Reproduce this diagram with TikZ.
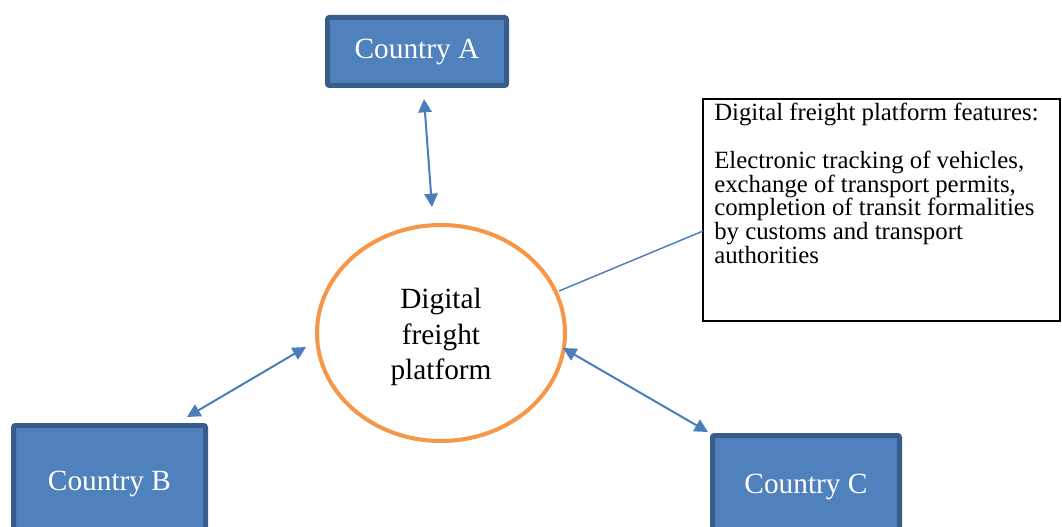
\documentclass[tikz,border=0pt]{standalone}
\usepackage{fontspec}
\setmainfont{Liberation Serif}
\usetikzlibrary{arrows.meta,calc,shapes.geometric}

\definecolor{boxfill}{HTML}{4F81BD}
\definecolor{boxline}{HTML}{385D8A}
\definecolor{ringline}{HTML}{F79646}
\definecolor{linkline}{HTML}{4A7EBB}

\tikzset{
  country/.style={draw=boxline, fill=boxfill, line width=3.75pt,
    rounded corners=1.5pt, inner sep=0pt, text=white,
    font=\fontsize{22pt}{26pt}\selectfont},
  platform/.style={ellipse, draw=ringline, line width=3pt, fill=white,
    inner sep=0pt, minimum width=186pt, minimum height=162pt},
  platformtext/.style={inner sep=0pt, align=center,
    font=\fontsize{22pt}{26.3pt}\selectfont},
  featbox/.style={draw=black, line width=1.5pt, inner sep=0pt,
    minimum width=267.75pt, minimum height=166.5pt},
  feattext/.style={inner sep=0pt, align=left,
    font=\fontsize{18.6pt}{17.8pt}\selectfont},
  biarrow/.style={draw=linkline, line width=1.5pt,
    {Triangle[length=10pt,width=10pt]}-{Triangle[length=10pt,width=10pt]}},
  link/.style={draw=linkline, line width=1.1pt}
}

\begin{document}
\begin{tikzpicture}[x=0.75pt, y=-0.75pt]
  \useasboundingbox (0,0) rectangle (1062,527);
  \clip (0,0) rectangle (1062,527);

  % country boxes
  \node[country, minimum width=134.25pt, minimum height=51pt] (A) at (417,51.5) {Country A};
  \node[country, minimum width=144pt, minimum height=87.75pt] (B) at (109.5,484) {Country B};
  \node[country, minimum width=140.25pt, minimum height=77.25pt] (C) at (806,487) {Country C};

  % central platform
  \node[platform] (P) at (441,333) {};
  \node[platformtext] (Ptxt) at ($(P.center)+(0,4)$) {Digital\\freight\\platform};

  % feature box and its text
  \node[featbox] (F) at (881.5,210) {};
  \node[feattext, anchor=north west] (Ftxt) at ($(F.north west)+(12,5)$)
    {Digital freight platform features:\\[18pt]
     Electronic tracking of vehicles,\\
     exchange of transport permits,\\
     completion of transit formalities\\
     by customs and transport\\
     authorities};

  % exchange arrows
  \draw[biarrow] ($(A.center)+(7,47.5)$) -- ($(P.center)+(-9,-126)$);
  \draw[biarrow] ($(P.center)+(-135,14)$) -- ($(B.center)+(77.5,-67)$);
  \draw[biarrow] ($(P.center)+(122,15)$) -- ($(C.center)+(-98,-55)$);

  % callout line to the feature box
  \draw[link] ($(P.center)+(118,-42)$) -- ($(F.center)+(-178.5,21)$);
\end{tikzpicture}
\end{document}
